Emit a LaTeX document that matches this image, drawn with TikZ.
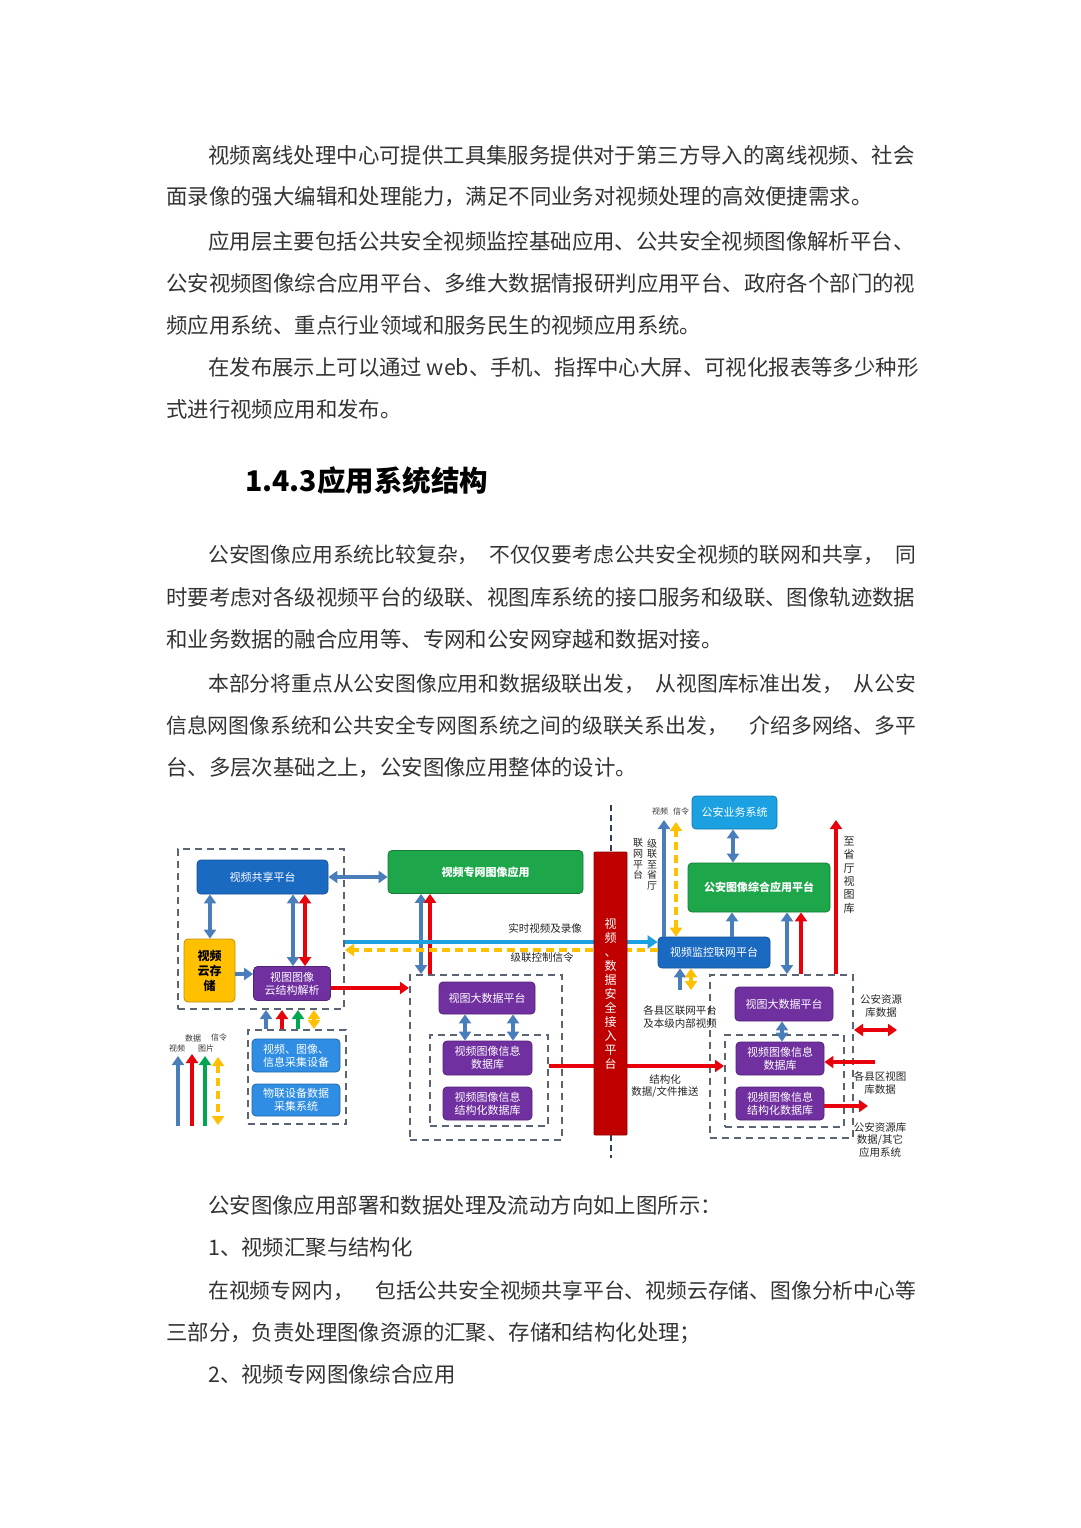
\documentclass[tikz,border=0pt]{standalone}
\usepackage{fontspec}
\setmainfont{Noto Sans CJK SC}
\usetikzlibrary{arrows.meta}

\definecolor{dblue}{HTML}{1B6AC2}
\definecolor{purp}{HTML}{7030A0}
\definecolor{grn}{HTML}{1DA64A}
\definecolor{ylw}{HTML}{FFC000}
\definecolor{barred}{HTML}{C00000}
\definecolor{arblue}{HTML}{4A7EBB}
\definecolor{arred}{HTML}{E8000B}
\definecolor{argrn}{HTML}{00A650}
\definecolor{cyn}{HTML}{1BA1E2}
\definecolor{lblue}{HTML}{2F8DE4}
\definecolor{dashgray}{HTML}{5A6472}
\definecolor{navy}{HTML}{2F3D5A}
\definecolor{txtgray}{HTML}{333333}

\begin{document}
\begin{tikzpicture}[x=1pt,y=-1pt,
    body/.style={anchor=west, inner sep=0pt, text=txtgray, font=\fontsize{21.4}{26}\selectfont},
    bodyg/.style={body, font=\fontsize{20.8}{26}\selectfont},
    heading/.style={anchor=west, inner sep=0pt, text=black, font=\fontsize{28.5}{33}\selectfont\bfseries},
    plat/.style={fill=#1, draw=#1!75!black, line width=0.8pt, rounded corners=4pt, text=white,
                 align=center, inner sep=0pt, font=\fontsize{11}{13}\selectfont},
    sz/.style 2 args={minimum width=#1, minimum height=#2},
    frame/.style={draw=dashgray, line width=2pt, dash pattern=on 7pt off 5pt, inner sep=0pt},
    lbl/.style={align=center, inner sep=0pt, text=black!85, font=\fontsize{10.5}{12.5}\selectfont},
    tiny/.style={inner sep=0pt, text=black!80, font=\fontsize{8}{9}\selectfont},
    ar/.style={line width=3.5pt, -{Triangle[width=12pt,length=9pt]}},
    dar/.style={line width=3.5pt, {Triangle[width=12pt,length=9pt]}-{Triangle[width=12pt,length=9pt]}},
    ydash/.style={ylw, line width=3.5pt, dash pattern=on 8pt off 5pt},
    cyanline/.style={cyn, line width=4.5pt, -{Triangle[width=13pt,length=10pt]}},
    boundary/.style={navy, line width=2pt, dash pattern=on 6pt off 4pt}]

\useasboundingbox[fill=white] (0,0) rectangle (1080,1528);

% text above
\node[body] (t1) at (208,155) {视频离线处理中心可提供工具集服务提供对于第三方导入的离线视频、社会};
\node[body] (t2) at (166,197) {面录像的强大编辑和处理能力，满足不同业务对视频处理的高效便捷需求。};
\node[body] (t3) at (208,241) {应用层主要包括公共安全视频监控基础应用、公共安全视频图像解析平台、};
\node[body] (t4) at (166,283) {公安视频图像综合应用平台、多维大数据情报研判应用平台、政府各个部门的视};
\node[body] (t5) at (166,325) {频应用系统、重点行业领域和服务民生的视频应用系统。};
\node[body] (t6) at (208,367) {在发布展示上可以通过 web、手机、指挥中心大屏、可视化报表等多少种形};
\node[body] (t7) at (166,409) {式进行视频应用和发布。};
\node[heading] (h1) at (245,481) {1.4.3应用系统结构};
\node[bodyg] (t8) at (208,555) {\makebox[708pt][l]{公安图像应用系统比较复杂，\hfill 不仅仅要考虑公共安全视频的联网和共享，\hfill 同}};
\node[body] (t9) at (166,597) {时要考虑对各级视频平台的级联、视图库系统的接口服务和级联、图像轨迹数据};
\node[body] (t10) at (166,639) {和业务数据的融合应用等、专网和公安网穿越和数据对接。};
\node[bodyg] (t11) at (208,684) {\makebox[708pt][l]{本部分将重点从公安图像应用和数据级联出发，\hfill 从视图库标准出发，\hfill 从公安}};
\node[bodyg] (t12) at (166,726) {\makebox[750pt][l]{信息网图像系统和公共安全专网图系统之间的级联关系出发，\hfill 介绍多网络、多平}};
\node[body] (t13) at (166,768) {台、多层次基础之上，公安图像应用整体的设计。};

% dashed frames
\node[frame, sz={166}{160}] (sharebox) at (261,929) {};
\node[frame, sz={98}{94}] (collbox) at (297,1077) {};
\node[frame, sz={152}{165}] (midbox) at (486,1057.5) {};
\node[frame, sz={118}{91}] (midin) at (489,1080.5) {};
\node[frame, sz={143}{163}] (rbox) at (781.5,1056.5) {};
\node[frame, sz={119}{92}] (rin) at (784.5,1081) {};

% platforms
\node[plat=dblue, sz={131}{34}] (share) at (262.5,877) {视频共享平台};
\node[plat=ylw, sz={51}{63}, text=black, font=\fontsize{12}{15}\selectfont\bfseries] (cloud) at (209.5,970.5) {视频\\云存\\储};
\node[plat=purp, sz={77}{34}] (parse) at (292,983.5) {视图图像\\云结构解析};
\node[plat=lblue, sz={88}{33}] (dev) at (296,1055.5) {视频、图像、\\信息采集设备};
\node[plat=lblue, sz={88}{32}] (iot) at (296,1100) {物联设备数据\\采集系统};
\node[plat=grn, sz={195}{43}, font=\fontsize{11}{13}\selectfont\bfseries] (app) at (485.5,872) {视频专网图像应用};
\node[plat=purp, sz={96}{32}] (mbig) at (487,998) {视图大数据平台};
\node[plat=purp, sz={89}{34}] (mdb) at (487.5,1058) {视频图像信息\\数据库};
\node[plat=purp, sz={89}{33}] (msdb) at (487.5,1103.5) {视频图像信息\\结构化数据库};
\node[plat=cyn, sz={85}{33}] (biz) at (734.5,812.5) {公安业务系统};
\node[plat=grn, sz={142}{49}, font=\fontsize{11}{13}\selectfont\bfseries] (integ) at (759,887.5) {公安图像综合应用平台};
\node[plat=dblue, sz={112}{31}] (vnet) at (714,952.5) {视频监控联网平台};
\node[plat=purp, sz={98}{34}] (rbig) at (784,1004) {视图大数据平台};
\node[plat=purp, sz={88}{33}] (rdb) at (780,1058.5) {视频图像信息\\数据库};
\node[plat=purp, sz={88}{33}] (rsdb) at (780,1103.5) {视频图像信息\\结构化数据库};

\coordinate (netTop) at (611,805);
\coordinate (netBot) at (611,1158);
\coordinate (provV) at (664,820);
\coordinate (provS) at (676,822);
\coordinate (provLib) at (836,820);
\coordinate (cntyV) at (680,990);
\coordinate (cntyS) at (691,990);
\coordinate (resOut) at (897,1030);
\coordinate (cntyLib) at (875,1062);
\coordinate (otherSys) at (868,1106);

\draw[boundary] (netTop) -- (netBot);

% left part
\draw[dar, arblue] (210,0 |- share.south) -- (210,0 |- cloud.north);
\draw[dar, arblue] (293,0 |- share.south) -- (293,0 |- parse.north);
\draw[dar, arred] (305,0 |- share.south) -- (305,0 |- parse.north);
\draw[ar, arblue] (cloud.east |- 0,974) -- (parse.west |- 0,974);
\draw[ar, arred] (parse.east |- 0,988) -- (midbox.west |- 0,988);
\draw[ar, arblue] (266,0 |- collbox.north) -- (266,0 |- sharebox.south);
\draw[ar, arred] (282,0 |- collbox.north) -- (282,0 |- sharebox.south);
\draw[ar, argrn] (298,0 |- collbox.north) -- (298,0 |- sharebox.south);
\draw[dar, ylw] (314,0 |- collbox.north) -- (314,0 |- sharebox.south);
\draw[dar, arblue] (share.east) -- (app.west |- share.east);

% legend
\draw[ar, arblue, line width=4.5pt] (178,1126) -- (178,1056);
\draw[ar, arred, line width=4.5pt] (192,1126) -- (192,1054);
\draw[ar, argrn, line width=4.5pt] (205,1126) -- (205,1056);
\draw[ydash, {Triangle[width=12pt,length=9pt]}-{Triangle[width=12pt,length=9pt]}] (218,1057) -- (218,1125);
\node[tiny] (lgv) at (177,1048) {视频};
\node[tiny] (lgd) at (193,1038) {数据};
\node[tiny] (lgp) at (206,1048) {图片};
\node[tiny] (lgs) at (219,1037) {信令};

% middle part
\draw[dar, arblue] (421,0 |- app.south) -- (421,0 |- midbox.north);
\draw[ar, arred] (430,0 |- midbox.north) -- (430,0 |- app.south);
\draw[dar, arblue] (465,0 |- mbig.south) -- (465,0 |- mdb.north);
\draw[dar, arblue] (513,0 |- mbig.south) -- (513,0 |- mdb.north);
\draw[cyanline] (sharebox.east |- 0,942) -- (vnet.west |- 0,942);
\draw[ydash, -{Triangle[width=12pt,length=9pt]}] (vnet.west |- 0,950) -- (sharebox.east |- 0,950);
\node[lbl] (lrt) at (545,928) {实时视频及录像};
\node[lbl] (lcc) at (542,958) {级联控制信令};
\draw[ar, arred] (midin.east |- 0,1066) -- (rin.west |- 0,1066);
\node[lbl] (lpush) at (665,1086) {结构化\\数据/文件推送};

\node[plat=barred, sz={33}{283}, rounded corners=1pt, font=\fontsize{12}{14}\selectfont] (gate) at (610.5,993.5)
  {视\\频\\、\\数\\据\\安\\全\\接\\入\\平\\台};

% right part
\draw[dar, arblue] (733,0 |- biz.south) -- (733,0 |- integ.north);
\draw[ar, arblue] (732,0 |- vnet.north) -- (732,0 |- integ.south);
\draw[ar, arblue] (664,0 |- vnet.north) -- (provV);
\draw[ydash, {Triangle[width=12pt,length=9pt]}-{Triangle[width=12pt,length=9pt]}] (676,0 |- vnet.north) -- (provS);
\node[tiny] (lpv) at (660,811) {视频};
\node[tiny] (lps) at (681,811) {信令};
\node[lbl, font=\fontsize{10}{10.6}\selectfont] (lcas) at (652,864.5) {级\\联\\至\\省\\厅};
\node[lbl, font=\fontsize{10}{10.6}\selectfont] (lnet) at (638,859) {联\\网\\平\\台};
\draw[dar, arblue] (787,0 |- integ.south) -- (787,0 |- rbox.north);
\draw[ar, arred] (801,0 |- rbox.north) -- (801,0 |- integ.south);
\draw[ar, arred] (836,0 |- rbox.north) -- (provLib);
\node[lbl, font=\fontsize{11}{13.3}\selectfont] (lprov) at (849,875) {至\\省\\厅\\视\\图\\库};
\draw[ar, arblue] (cntyV) -- (680,0 |- vnet.south);
\draw[dar, ylw] (cntyS) -- (691,0 |- vnet.south);
\node[lbl] (lcnty) at (680,1017) {各县区联网平台\\及本级内部视频};
\draw[dar, arblue] (782,0 |- rbig.south) -- (782,0 |- rdb.north);
\draw[dar, arred] (rbox.east |- 0,1030) -- (resOut);
\draw[ar, arred] (cntyLib) -- (rdb.east |- cntyLib);
\draw[ar, arred] (rsdb.east |- otherSys) -- (otherSys);
\node[lbl] (lres) at (881,1006) {公安资源\\库数据};
\node[lbl] (lclib) at (880,1083) {各县区视图\\库数据};
\node[lbl] (loth) at (880,1140) {公安资源库\\数据/其它\\应用系统};

% text below
\node[body] (t14) at (208,1205) {公安图像应用部署和数据处理及流动方向如上图所示：};
\node[body] (t15) at (208,1247) {1、视频汇聚与结构化};
\node[bodyg] (t16) at (208,1291) {\makebox[708pt][l]{在视频专网内，\hfill 包括公共安全视频共享平台、视频云存储、图像分析中心等}};
\node[body] (t17) at (166,1333) {三部分，负责处理图像资源的汇聚、存储和结构化处理；};
\node[body] (t18) at (208,1374) {2、视频专网图像综合应用};
\end{tikzpicture}
\end{document}
